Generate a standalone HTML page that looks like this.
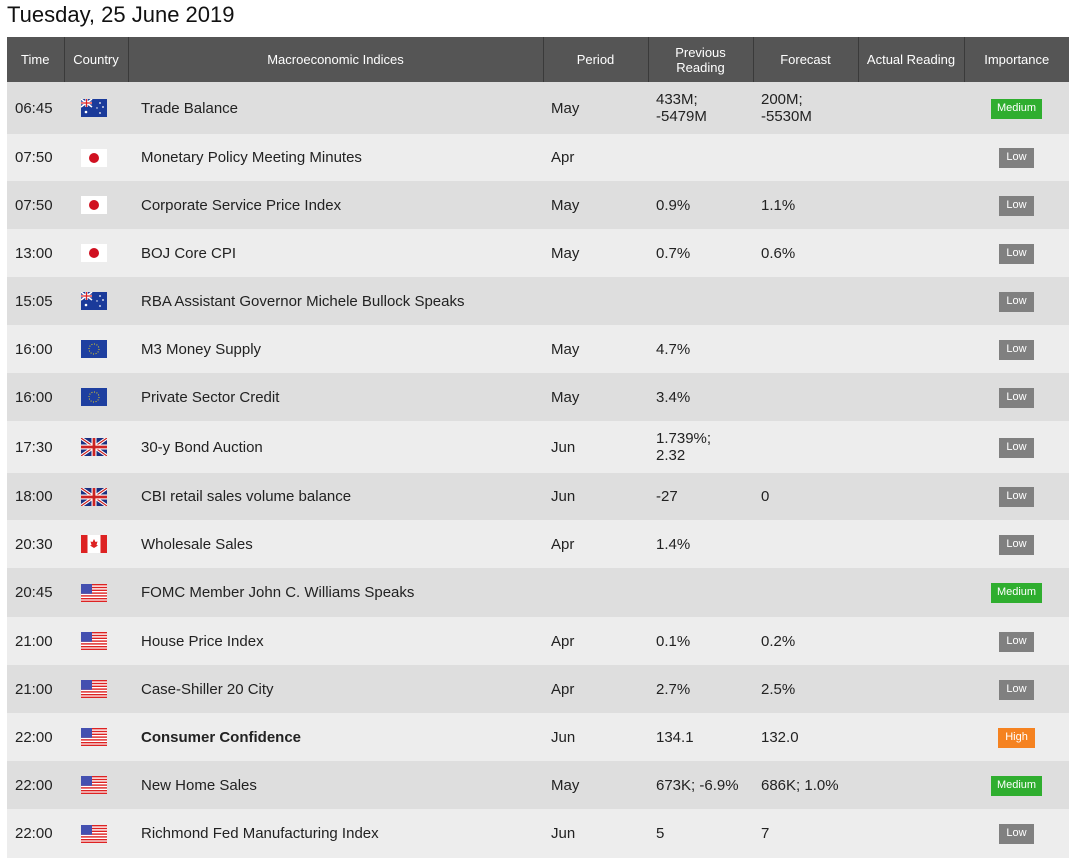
<!DOCTYPE html>
<html><head><meta charset="utf-8"><style>
body{margin:0;background:#fff;width:1075px;height:865px;overflow:hidden;font-family:"Liberation Sans",sans-serif;color:#222}
.t{position:absolute;left:7px;top:2px;font-size:22px;color:#111}
table{position:absolute;left:7px;top:37px;width:1062px;border-collapse:collapse;table-layout:fixed}
th{background:#555;color:#fff;font-weight:normal;font-size:13px;height:45px;padding:0;border-right:1px solid #3a3a3a;line-height:15px}
th:last-child{border-right:none}
td{font-size:15px;padding:0 0 0 8px;vertical-align:middle;line-height:17px}
tr.a td{background:#dedede}tr.b td{background:#ededed}
td.f{padding:0;text-align:left}
td.f svg{display:block;margin-left:17px}
td.m{padding-left:13px}
.bd{display:inline-block;color:#fff;font-size:11px;padding:3px 7px 4px;line-height:13px}
.me{padding:3px 6px 4px}
.lo{background:#808080}.me{background:#2fae2f}.hi{background:#f58220}
td.i{text-align:center;padding:0}
</style></head><body>
<div class="t">Tuesday, 25 June 2019</div>
<svg width="0" height="0" style="position:absolute"><defs>
<symbol id="us" viewBox="0 0 26 18"><rect width="26" height="18" fill="#fff"/><g fill="#d22"><rect y="0" width="26" height="1.4"/><rect y="2.8" width="26" height="1.4"/><rect y="5.6" width="26" height="1.4"/><rect y="8.4" width="26" height="1.4"/><rect y="11.2" width="26" height="1.4"/><rect y="14" width="26" height="1.4"/><rect y="16.6" width="26" height="1.4"/></g><rect width="11" height="9.8" fill="#4450b0"/></symbol>
<symbol id="jp" viewBox="0 0 26 18"><rect width="26" height="18" fill="#fff"/><circle cx="13" cy="9" r="5" fill="#d01020"/></symbol>
<symbol id="au" viewBox="0 0 26 18"><rect width="26" height="18" fill="#1a3a9a"/><rect width="11" height="8" fill="#1a3a9a"/><path d="M0 0L11 8M11 0L0 8" stroke="#fff" stroke-width="1.6"/><path d="M5.5 0V8M0 4H11" stroke="#fff" stroke-width="2.4"/><path d="M5.5 0V8M0 4H11" stroke="#d22" stroke-width="1.2"/><g fill="#fff"><circle cx="5" cy="13" r="1.3"/><circle cx="19" cy="4" r="0.9"/><circle cx="22" cy="8" r="0.9"/><circle cx="19" cy="14" r="0.9"/><circle cx="16" cy="9" r="0.7"/></g></symbol>
<symbol id="eu" viewBox="0 0 26 18"><rect width="26" height="18" fill="#1e3fa0"/><circle cx="13" cy="9" r="5" fill="none" stroke="#e8d020" stroke-width="1" stroke-dasharray="1 1.6"/></symbol>
<symbol id="uk" viewBox="0 0 26 18"><rect width="26" height="18" fill="#1a2f80"/><path d="M0 0L26 18M26 0L0 18" stroke="#fff" stroke-width="3.2"/><path d="M0 0L26 18M26 0L0 18" stroke="#c22" stroke-width="1.2"/><path d="M13 0V18M0 9H26" stroke="#fff" stroke-width="5"/><path d="M13 0V18M0 9H26" stroke="#c22" stroke-width="2.8"/></symbol>
<symbol id="ca" viewBox="0 0 26 18"><rect width="26" height="18" fill="#fff"/><rect width="6.5" height="18" fill="#d22"/><rect x="19.5" width="6.5" height="18" fill="#d22"/><path d="M13 4L14.5 7L16.5 6.5L15.5 10L17 10.5L13 13L9 10.5L10.5 10L9.5 6.5L11.5 7Z" fill="#d22"/></symbol>
</defs></svg>
<table>
<colgroup><col style="width:57px"><col style="width:64px"><col style="width:415px"><col style="width:105px"><col style="width:105px"><col style="width:105px"><col style="width:106px"><col style="width:105px"></colgroup>
<tr><th>Time</th><th>Country</th><th>Macroeconomic Indices</th><th>Period</th><th>Previous<br>Reading</th><th>Forecast</th><th>Actual Reading</th><th>Importance</th></tr>
<tr class="a" style="height:52px"><td>06:45</td><td class="f"><svg width="26" height="18"><use href="#au"/></svg></td><td class="m">Trade Balance</td><td>May</td><td>433M;<br>-5479M</td><td>200M;<br>-5530M</td><td></td><td class="i"><span class="bd me">Medium</span></td></tr>
<tr class="b" style="height:47px"><td>07:50</td><td class="f"><svg width="26" height="18"><use href="#jp"/></svg></td><td class="m">Monetary Policy Meeting Minutes</td><td>Apr</td><td></td><td></td><td></td><td class="i"><span class="bd lo">Low</span></td></tr>
<tr class="a" style="height:48px"><td>07:50</td><td class="f"><svg width="26" height="18"><use href="#jp"/></svg></td><td class="m">Corporate Service Price Index</td><td>May</td><td>0.9%</td><td>1.1%</td><td></td><td class="i"><span class="bd lo">Low</span></td></tr>
<tr class="b" style="height:48px"><td>13:00</td><td class="f"><svg width="26" height="18"><use href="#jp"/></svg></td><td class="m">BOJ Core CPI</td><td>May</td><td>0.7%</td><td>0.6%</td><td></td><td class="i"><span class="bd lo">Low</span></td></tr>
<tr class="a" style="height:48px"><td>15:05</td><td class="f"><svg width="26" height="18"><use href="#au"/></svg></td><td class="m">RBA Assistant Governor Michele Bullock Speaks</td><td></td><td></td><td></td><td></td><td class="i"><span class="bd lo">Low</span></td></tr>
<tr class="b" style="height:48px"><td>16:00</td><td class="f"><svg width="26" height="18"><use href="#eu"/></svg></td><td class="m">M3 Money Supply</td><td>May</td><td>4.7%</td><td></td><td></td><td class="i"><span class="bd lo">Low</span></td></tr>
<tr class="a" style="height:48px"><td>16:00</td><td class="f"><svg width="26" height="18"><use href="#eu"/></svg></td><td class="m">Private Sector Credit</td><td>May</td><td>3.4%</td><td></td><td></td><td class="i"><span class="bd lo">Low</span></td></tr>
<tr class="b" style="height:52px"><td>17:30</td><td class="f"><svg width="26" height="18"><use href="#uk"/></svg></td><td class="m">30-y Bond Auction</td><td>Jun</td><td>1.739%;<br>2.32</td><td></td><td></td><td class="i"><span class="bd lo">Low</span></td></tr>
<tr class="a" style="height:47px"><td>18:00</td><td class="f"><svg width="26" height="18"><use href="#uk"/></svg></td><td class="m">CBI retail sales volume balance</td><td>Jun</td><td>-27</td><td>0</td><td></td><td class="i"><span class="bd lo">Low</span></td></tr>
<tr class="b" style="height:48px"><td>20:30</td><td class="f"><svg width="26" height="18"><use href="#ca"/></svg></td><td class="m">Wholesale Sales</td><td>Apr</td><td>1.4%</td><td></td><td></td><td class="i"><span class="bd lo">Low</span></td></tr>
<tr class="a" style="height:49px"><td>20:45</td><td class="f"><svg width="26" height="18"><use href="#us"/></svg></td><td class="m">FOMC Member John C. Williams Speaks</td><td></td><td></td><td></td><td></td><td class="i"><span class="bd me">Medium</span></td></tr>
<tr class="b" style="height:48px"><td>21:00</td><td class="f"><svg width="26" height="18"><use href="#us"/></svg></td><td class="m">House Price Index</td><td>Apr</td><td>0.1%</td><td>0.2%</td><td></td><td class="i"><span class="bd lo">Low</span></td></tr>
<tr class="a" style="height:48px"><td>21:00</td><td class="f"><svg width="26" height="18"><use href="#us"/></svg></td><td class="m">Case-Shiller 20 City</td><td>Apr</td><td>2.7%</td><td>2.5%</td><td></td><td class="i"><span class="bd lo">Low</span></td></tr>
<tr class="b" style="height:48px"><td>22:00</td><td class="f"><svg width="26" height="18"><use href="#us"/></svg></td><td class="m"><b>Consumer Confidence</b></td><td>Jun</td><td>134.1</td><td>132.0</td><td></td><td class="i"><span class="bd hi">High</span></td></tr>
<tr class="a" style="height:48px"><td>22:00</td><td class="f"><svg width="26" height="18"><use href="#us"/></svg></td><td class="m">New Home Sales</td><td>May</td><td>673K; -6.9%</td><td>686K; 1.0%</td><td></td><td class="i"><span class="bd me">Medium</span></td></tr>
<tr class="b" style="height:49px"><td>22:00</td><td class="f"><svg width="26" height="18"><use href="#us"/></svg></td><td class="m">Richmond Fed Manufacturing Index</td><td>Jun</td><td>5</td><td>7</td><td></td><td class="i"><span class="bd lo">Low</span></td></tr>
</table>
</body></html>
